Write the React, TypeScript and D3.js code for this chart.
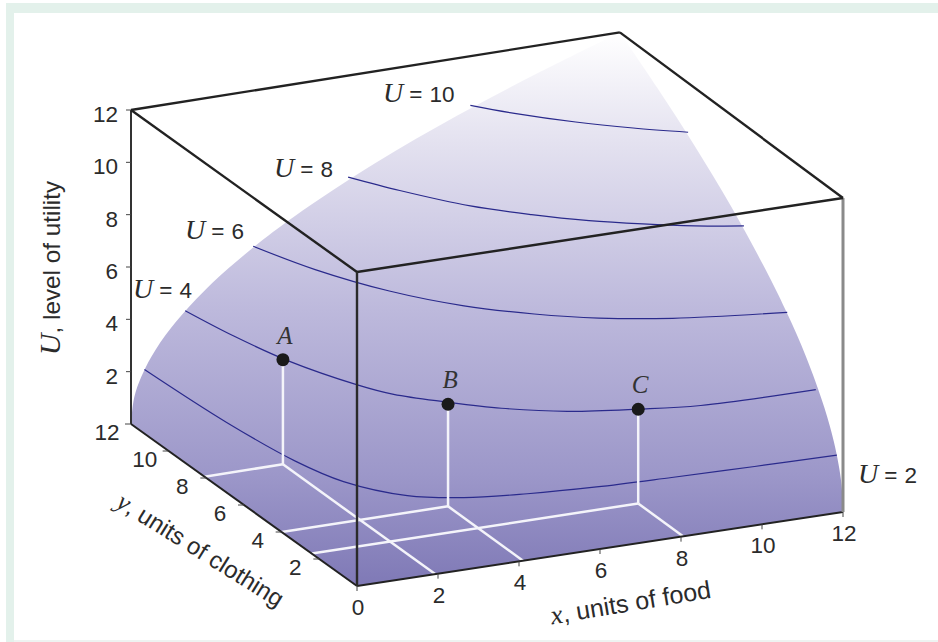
import React from "react";
import * as d3 from "d3";

const W = 938, H = 642;
const axisTicks = [0, 2, 4, 6, 8, 10, 12];
const zTicks = [2, 4, 6, 8, 10, 12];
const yTicks = [2, 4, 6, 8, 10, 12];

// indifference curves: x = food, y = clothing at level U
const u2x = [0.33, 0.5, 0.8, 1.2, 2.1, 3.2, 4.6, 6.2, 8, 10, 12];
const u2y = [12, 8, 5, 3.3, 1.85, 1.2, 0.85, 0.62, 0.5, 0.4, 0.33];
const u4x = [1.33, 1.6, 2, 2.73, 3.2, 4.05, 5, 6.26, 7.75, 9.14, 11.93];
const u4y = [12, 10, 8, 5.87, 4.95, 4, 3.1, 2.3, 1.78, 1.42, 1.31];
const u6x = [3, 3.6, 4.5, 5.6, 6.8, 8, 9.5, 12];
const u6y = [12, 10, 8, 6.4, 5.25, 4.4, 3.7, 3];
const u8x = [5.33, 6, 7, 8, 9, 10, 11, 12];
const u8y = [12, 10.7, 9.1, 8, 7.1, 6.4, 5.8, 5.33];
const u10x = [8.33, 9, 10, 11, 12];
const u10y = [12, 11.1, 10, 9.1, 8.33];
const curveLevels = [2, 4, 6.05, 8.12, 10.12];
const curveXs = [u2x, u4x, u6x, u8x, u10x];
const curveYs = [u2y, u4y, u6y, u8y, u10y];

// rim of the utility surface (same values on both back edges)
const rimAlong = [0, 0.08, 0.25, 0.5, 1, 2, 3, 4, 6, 8, 10, 12];
const rimU = [0, 1, 1.73, 2.45, 3.46, 4.9, 6, 6.93, 8.49, 9.8, 10.95, 12];

const pointNames = ["A", "B", "C"];
const pointX = [1.93, 4.1, 8.05];
const pointY = [8.1, 4.0, 2.4];
const pointU = [4.0, 3.9, 3.6];

const sxX = d3.scaleLinear([0, 12], [0, 486]);
const sxY = d3.scaleLinear([0, 12], [0, -226]);
const syX = d3.scaleLinear([0, 12], [0, -74]);
const syY = d3.scaleLinear([0, 12], [0, -162]);
const syZ = d3.scaleLinear([0, 12], [0, -314]);
const px = (x: number, y: number) => 357 + sxX(x) + sxY(y) + 0.02 * x * y;
const py = (x: number, y: number, z: number) => 586 + syX(x) + syY(y) + syZ(z) - 0.025 * x * y;
const P = (x: number, y: number, z: number): [number, number] => [px(x, y), py(x, y, z)];

const smooth = d3.line().curve(d3.curveCatmullRom.alpha(0.5));
const straight = d3.line();

const rimRight = rimAlong.map((v, i) => P(12, v, rimU[i]));
const rimLeft = rimAlong.map((v, i) => P(v, 12, rimU[i])).reverse();
const surface =
  "M" + P(0, 0, 0).join(",") + "L" + P(12, 0, 0).join(",") +
  smooth(rimRight)!.replace(/^M/, "L") +
  smooth(rimLeft)!.replace(/^M/, "L") + "Z";

const sans = "'Liberation Sans', Arial, sans-serif";
const serif = "'Liberation Serif', 'Times New Roman', serif";
const ink = "#2b2b2b";

function ULabel({ x, y, n }: { x: number; y: number; n: number }) {
  return (
    <text x={x} y={y} fontFamily={sans} fontSize={22.5} fill={ink}>
      <tspan fontFamily={serif} fontStyle="italic" fontSize={28}>U</tspan>
      <tspan dx={6}>=</tspan>
      <tspan dx={7}>{n}</tspan>
    </text>
  );
}

const uLabelLevels = [2, 4, 6, 8, 10];
const uLabelX = [858, 133, 185, 274, 383];
const uLabelY = [483, 298, 239, 177, 102];

export default function App() {
  const box = (a: [number, number], b: [number, number], color = "#222", w = 2.4) => (
    <path d={straight([a, b])!} stroke={color} strokeWidth={w} fill="none" />
  );
  return (
    <svg width={W} height={H} style={{ position: "absolute", left: 0, top: 0 }}>
      <defs>
        <linearGradient id="surf" gradientUnits="userSpaceOnUse" x1={0} x2={0} y1={33} y2={586}>
          <stop offset="0" stopColor="#ffffff" />
          <stop offset="0.18" stopColor="#e6e4f1" />
          <stop offset="0.5" stopColor="#bdb9dc" />
          <stop offset="0.8" stopColor="#9c97c9" />
          <stop offset="1" stopColor="#7f79b6" />
        </linearGradient>
      </defs>
      <rect width={W} height={H} fill="#fff" />
      <rect x={6} y={3} width={W - 6} height={10} fill="#e3f1eb" />
      <rect x={6} y={3} width={8} height={H - 3} fill="#e3f1eb" />
      <rect x={14} y={640} width={W - 14} height={2} fill="#eef3f1" />

      <path d={surface} fill="url(#surf)" />

      {curveLevels.map((u, i) => (
        <path
          key={u}
          d={smooth(curveXs[i].map((x, j) => P(x, curveYs[i][j], u)))!}
          fill="none"
          stroke="#2a2a8c"
          strokeWidth={1.2}
        />
      ))}

      {pointNames.map((n, i) => {
        const x = pointX[i], y = pointY[i], u = pointU[i];
        const foot = P(x, y, 0);
        return (
          <g key={n} stroke="#f4f4fa" strokeWidth={2.5} fill="none">
            <path d={straight([foot, P(x, y, u)])!} />
            <path d={straight([foot, P(x, 0, 0)])!} />
            <path d={straight([foot, P(0, y, 0)])!} />
          </g>
        );
      })}

      {pointNames.map((n, i) => {
        const [cx, cy] = P(pointX[i], pointY[i], pointU[i]);
        return (
          <g key={n}>
            <circle cx={cx} cy={cy} r={6.5} fill="#1a1a1a" />
            <text x={cx + 2} y={cy - 16} textAnchor="middle" fontFamily={serif} fontStyle="italic" fontSize={25} fill="#333">
              {n}
            </text>
          </g>
        );
      })}

      {box(P(0, 12, 0), P(0, 12, 12), "#333", 2)}
      {box(P(0, 12, 0), P(0, 0, 0), "#222", 2)}
      {box(P(0, 0, 0), P(12, 0, 0), "#222", 2)}
      {box(P(12, 0, 0), P(12, 0, 12), "#8a8a8a", 3)}
      {box(P(0, 12, 12), P(12, 12, 12))}
      {box(P(12, 12, 12), P(12, 0, 12))}
      {box(P(12, 0, 12), P(0, 0, 12))}
      {box(P(0, 0, 12), P(0, 12, 12))}
      {box(P(0, 0, 0), P(0, 0, 12), "#2a2a2a", 2.4)}

      {axisTicks.map((t) => {
        const [x, y] = P(t, 0, 0);
        return (
          <g key={t}>
            <line x1={x} x2={x} y1={y} y2={y + 5} stroke="#444" strokeWidth={1} />
            <text x={x + 1} y={y + 29} textAnchor="middle" fontFamily={sans} fontSize={22.5} fill={ink}>{t}</text>
          </g>
        );
      })}
      {yTicks.map((t) => {
        const [x, y] = P(0, t, 0);
        return (
          <g key={t}>
            <line x1={x} x2={x - 6} y1={y} y2={y} stroke="#444" strokeWidth={1} />
            <text x={x - 24} y={y + 16} textAnchor="middle" fontFamily={sans} fontSize={22.5} fill={ink}>{t}</text>
          </g>
        );
      })}
      {zTicks.map((t) => {
        const [x, y] = P(0, 12, t);
        return (
          <g key={t}>
            <line x1={x} x2={x - 5} y1={y} y2={y} stroke="#444" strokeWidth={1} />
            <text x={x - 13} y={y + 12} textAnchor="end" fontFamily={sans} fontSize={22.5} fill={ink}>{t}</text>
          </g>
        );
      })}

      {uLabelLevels.map((n, i) => (
        <ULabel key={n} n={n} x={uLabelX[i]} y={uLabelY[i]} />
      ))}

      <text transform="translate(60,268) rotate(-90)" textAnchor="middle" fontFamily={sans} fontSize={24.3} fill={ink}>
        <tspan fontFamily={serif} fontStyle="italic" fontSize={30}>U</tspan>, level of utility
      </text>
      <text transform="translate(632,611) rotate(-9.5)" textAnchor="middle" fontFamily={sans} fontSize={25} fill={ink}>
        <tspan fontFamily={serif} fontStyle="italic" fontSize={27}>x</tspan>, units of food
      </text>
      <text transform="translate(196,557) rotate(32)" textAnchor="middle" fontFamily={sans} fontSize={24} fill={ink}>
        <tspan fontFamily={serif} fontStyle="italic" fontSize={26}>y</tspan>, units of clothing
      </text>
    </svg>
  );
}
